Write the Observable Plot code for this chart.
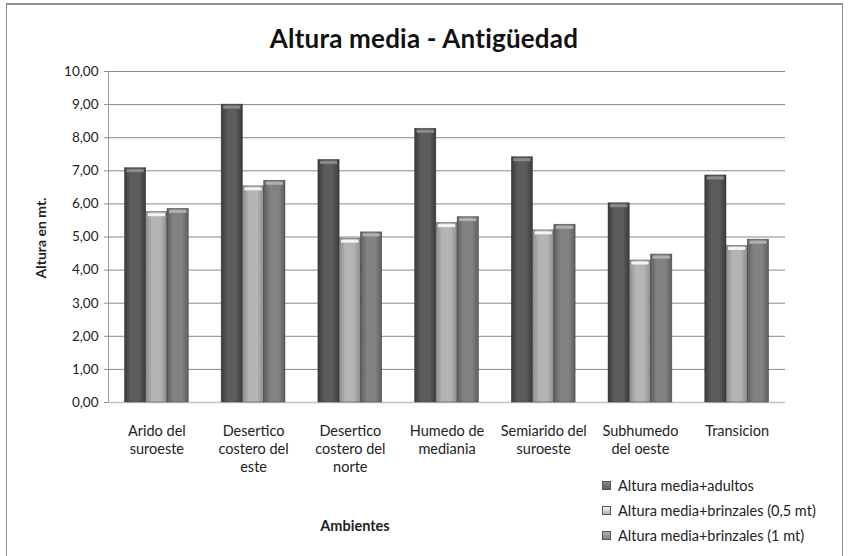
<!DOCTYPE html>
<html>
<head>
<meta charset="utf-8">
<script src="https://cdn.jsdelivr.net/npm/d3@7"></script>
<script src="https://cdn.jsdelivr.net/npm/@observablehq/plot@0.6"></script>
<style>
  html, body { margin: 0; padding: 0; background: #fff; }
  #chart { position: relative; width: 848px; height: 556px; overflow: hidden; font-family: Lato, "Open Sans", sans-serif; color: #222; }
  #border { position: absolute; left: 6px; top: 3px; width: 837px; height: 570px; border: 1.5px solid #8e8e8e; border-top-width: 2px; box-sizing: border-box; }
  #title { position: absolute; left: 0; width: 848px; top: 22px; text-align: center; font-size: 26px; font-weight: 700; color: #111; letter-spacing: 0.2px; }
  #ylabel { position: absolute; left: 40px; top: 238px; transform: translate(-50%, -50%) rotate(-90deg); font-size: 14px; font-weight: 700; white-space: nowrap; }
  #xlabel { position: absolute; left: 355px; top: 525px; transform: translate(-50%, -50%); font-size: 14.5px; font-weight: 700; }
  #legend { position: absolute; left: 602px; top: 473px; font-size: 14.5px; }
  #legend .row { height: 25px; display: flex; align-items: center; }
  #legend .sw { width: 7px; height: 7px; margin-right: 7px; border: 1px solid #555; }
  #plot { position: absolute; left: 0; top: 0; }
  #plot svg text { fill: #222; }
</style>
</head>
<body>
<div id="chart">
  <div id="border"></div>
  <div id="plot"></div>
  <div id="title">Altura media - Antigüedad</div>
  <div id="ylabel">Altura en mt.</div>
  <div id="xlabel">Ambientes</div>
  <div id="legend"></div>
</div>
<script>
// Ambientes (categories) and their axis labels split over lines
const categories = ["Arido del suroeste", "Desertico costero del este", "Desertico costero del norte", "Humedo de mediania", "Semiarido del suroeste", "Subhumedo del oeste", "Transicion"];
const tickLabels = ["Arido del\nsuroeste", "Desertico\ncostero del\neste", "Desertico\ncostero del\nnorte", "Humedo de\nmediania", "Semiarido del\nsuroeste", "Subhumedo\ndel oeste", "Transicion"];

// Series names and mean heights (m)
const series = ["Altura media+adultos", "Altura media+brinzales (0,5 mt)", "Altura media+brinzales (1 mt)"];
const adultos = [7.08, 9.00, 7.33, 8.27, 7.41, 6.02, 6.86];
const brinzales05 = [5.75, 6.53, 4.95, 5.42, 5.20, 4.29, 4.73];
const brinzales1 = [5.85, 6.70, 5.14, 5.60, 5.37, 4.47, 4.92];
const yTicks = [0, 1, 2, 3, 4, 5, 6, 7, 8, 9, 10];

// Shades per series: [edge, centre, cap]
const shades = [
  ["#3a3a3a", "#5c5c5c", "#8a8a8a"],
  ["#8c8c8c", "#b4b4b4", "#f4f4f4"],
  ["#5e5e5e", "#828282", "#b0b0b0"]
];

const values = [adultos, brinzales05, brinzales1];
const rows = series.map((s, j) => categories.map((c, i) => ({categoria: c, serie: s, valor: values[j][i]})));

const W = 848, H = 480, mL = 108, mR = 63, mT = 71, mB = 78;
const pInner = 0.34, pOuter = 0.17;
const step = (W - mL - mR) / (categories.length - pInner + 2 * pOuter);
const bw = step * (1 - pInner);
const third = bw / 3;

const coma = d => d.toFixed(2).replace(".", ",");
const labelOf = new Map(categories.map((c, i) => [c, tickLabels[i]]));

const barMarks = rows.flatMap((data, j) => [
  Plot.barY(data, {
    x: "categoria", y: "valor",
    fill: `url(#grad${j})`,
    stroke: "#333", strokeWidth: 0.6, strokeOpacity: 0.7,
    insetLeft: j * third, insetRight: (2 - j) * third
  }),
  Plot.tickY(data, {
    x: "categoria", y: "valor",
    stroke: shades[j][2], strokeWidth: 3, dy: 2.5,
    insetLeft: j * third + 2, insetRight: (2 - j) * third + 2
  })
]);

const svg = Plot.plot({
  width: W, height: H,
  marginLeft: mL, marginRight: mR, marginTop: mT, marginBottom: mB,
  style: {fontFamily: "Lato, 'Open Sans', sans-serif", fontSize: "13.5px", color: "#8a8a8a", background: "transparent"},
  x: {domain: categories, paddingInner: pInner, paddingOuter: pOuter, round: false, label: null},
  y: {domain: [0, 10], label: null},
  marks: [
    Plot.gridY(yTicks.filter(d => d > 0), {stroke: "#8a8a8a", strokeOpacity: 1}),
    Plot.ruleY([0], {stroke: "#c4c4c4", strokeWidth: 1.5}),
    Plot.axisY({ticks: yTicks, tickFormat: coma, tickSize: 4, tickPadding: 6, label: null}),
    Plot.ruleX([0], {x: () => categories[0], dx: -step * pOuter - bw / 2, y1: 0, y2: 10, stroke: "#9a9a9a"}),
    Plot.axisX({tickSize: 0, tickPadding: 21, tickFormat: d => labelOf.get(d), lineHeight: 1.24, fontSize: 14.5, label: null}),
    ...barMarks
  ]
});

// Horizontal shading for the bars
const defs = d3.select(svg).insert("defs", ":first-child");
shades.forEach(([edge, mid], j) => {
  const g = defs.append("linearGradient").attr("id", `grad${j}`).attr("x1", "0").attr("x2", "1").attr("y1", "0").attr("y2", "0");
  g.append("stop").attr("offset", "0").attr("stop-color", edge);
  g.append("stop").attr("offset", "0.3").attr("stop-color", mid);
  g.append("stop").attr("offset", "0.7").attr("stop-color", mid);
  g.append("stop").attr("offset", "1").attr("stop-color", edge);
});

document.getElementById("plot").appendChild(svg);

// Legend
const legend = d3.select("#legend");
series.forEach((s, j) => {
  const r = legend.append("div").attr("class", "row");
  r.append("div").attr("class", "sw").style("background", `linear-gradient(${shades[j][2]}, ${shades[j][1]})`);
  r.append("span").text(s);
});
</script>
</body>
</html>
